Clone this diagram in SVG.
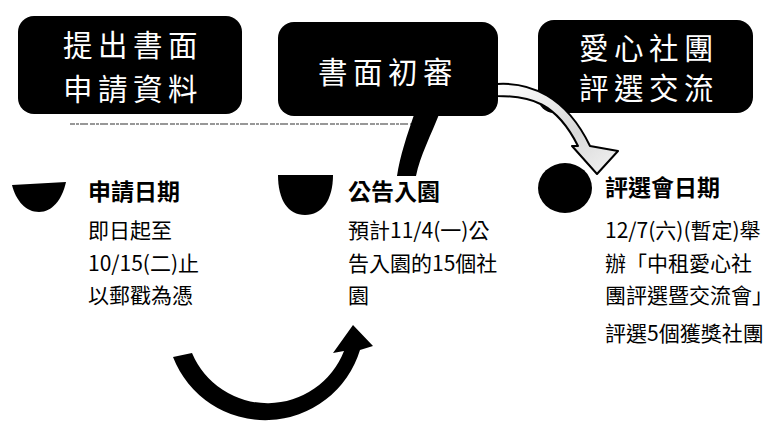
<svg xmlns="http://www.w3.org/2000/svg" width="773" height="421" viewBox="0 0 773 421">
  <defs>
    <linearGradient id="shaftFill" x1="0" y1="0" x2="1" y2="1">
      <stop offset="0" stop-color="#ffffff"/>
      <stop offset="0.6" stop-color="#d8d8d8"/>
      <stop offset="1" stop-color="#f4f4f4"/>
    </linearGradient>
  </defs>
  <style>
    .box { fill: #000; }
    .boxText { fill: #fff; font-family: "Noto Sans CJK TC", "Liberation Sans", sans-serif; font-size: 29.5px; letter-spacing: 5.5px; text-anchor: middle; }
    .head { fill: #000; font-family: "Noto Sans CJK TC", "Liberation Sans", sans-serif; font-size: 23px; font-weight: bold; }
    .body { fill: #000; font-family: "Noto Sans CJK TC", "Liberation Sans", sans-serif; font-size: 21px; }
    .bullet { fill: #000; }
  </style>
  <rect width="773" height="421" fill="#fff"/>

  <!-- faint scan line under the header boxes -->
  <line x1="70" y1="124" x2="415" y2="124" stroke="#333" stroke-width="1.2" stroke-dasharray="5 1 3 1 8 2"/>

  <g id="connectors">
    <!-- tail of the arrow from 書面初審 (runs behind the box) -->
    <path d="M397,176 C400,156 407,135 415,112 L440,112 C431,135 420,156 416,176 Z" fill="#000"/>
    <!-- bottom U-turn arrow -->
    <path d="M173,357 A99,99 0 0 0 360,350 L373,346 L353,325 L333,353 L344,351 A82,82 0 0 1 192,353 Z" fill="#000"/>
  </g>

  <g id="node-submit">
    <rect class="box" x="18" y="16" width="224" height="98" rx="16"/>
    <text class="boxText" x="133" y="56">提出書面</text>
    <text class="boxText" x="133" y="100">申請資料</text>
  </g>

  <g id="node-review">
    <rect class="box" x="278" y="22" width="220" height="94" rx="16"/>
    <text class="boxText" x="388" y="83">書面初審</text>
  </g>

  <g id="node-event">
    <rect class="box" x="538" y="20" width="215" height="93" rx="16"/>
    <text class="boxText" x="649" y="59">愛心社團</text>
    <text class="boxText" x="649" y="99">評選交流</text>
  </g>

  <g id="connector-to-event">
    <path d="M497,84 C530,82 566,96 590,146 L618,151 L597,174 L572,146 L578,146 C556,102 530,96 497,96 Z" fill="url(#shaftFill)" stroke="#000" stroke-width="2" stroke-linejoin="round"/>
  </g>

  <g id="item-apply">
    <path class="bullet" d="M12,185 L66,182 C62,200 52,212 39,212 C26,212 16,201 12,185 Z"/>
    <text class="head" x="88" y="200">申請日期</text>
    <text class="body" x="88" y="238">即日起至</text>
    <text class="body" x="88" y="271">10/15(二)止</text>
    <text class="body" x="88" y="303">以郵戳為憑</text>
  </g>

  <g id="item-announce">
    <path class="bullet" d="M278,175 L333,175 C333,200 322,215 305,215 C288,215 278,200 278,175 Z"/>
    <text class="head" x="348" y="200">公告入園</text>
    <text class="body" x="348" y="238">預計11/4(一)公</text>
    <text class="body" x="348" y="271">告入園的15個社</text>
    <text class="body" x="348" y="303">園</text>
  </g>

  <g id="item-event">
    <ellipse class="bullet" cx="565" cy="188" rx="27" ry="25"/>
    <text class="head" x="605" y="196">評選會日期</text>
    <text class="body" x="605" y="238">12/7(六)(暫定)舉</text>
    <text class="body" x="605" y="271">辦「中租愛心社</text>
    <text class="body" x="605" y="303">團評選暨交流會」</text>
    <text class="body" x="605" y="341">評選5個獲獎社團</text>
  </g>
</svg>
